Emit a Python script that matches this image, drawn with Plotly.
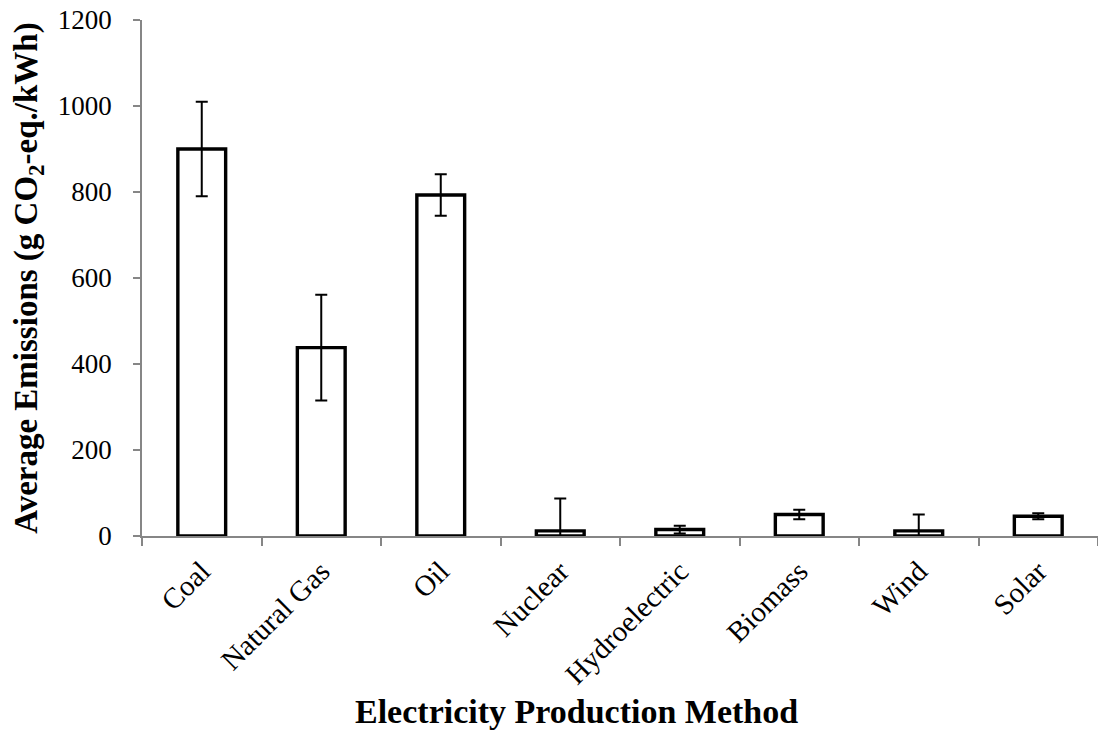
import plotly.graph_objects as go

# Life-cycle greenhouse gas emissions by electricity source
methods = ["Coal", "Natural Gas", "Oil", "Nuclear", "Hydroelectric",
           "Biomass", "Wind", "Solar"]
avg_emissions = [900, 438, 793, 12, 15, 50, 12, 46]
err_upper = [110, 123, 48, 75, 9, 11, 38, 7]
err_lower = [110, 123, 48, 12, 9, 11, 12, 7]

y_ticks = [0, 200, 400, 600, 800, 1000, 1200]

serif = "Liberation Serif, Times New Roman, serif"
axis_grey = "#868686"

fig = go.Figure(
    go.Bar(
        x=methods,
        y=avg_emissions,
        width=0.4,
        marker=dict(color="white", line=dict(color="black", width=3.4)),
        error_y=dict(
            type="data",
            symmetric=False,
            array=err_upper,
            arrayminus=err_lower,
            color="black",
            thickness=2,
            width=6,
        ),
    )
)

fig.update_layout(
    width=1098,
    height=736,
    margin=dict(l=142, r=0, t=20, b=200),
    paper_bgcolor="white",
    plot_bgcolor="white",
    showlegend=False,
    font=dict(family=serif, color="black", size=27),
)

fig.update_xaxes(
    type="category",
    showline=True,
    linecolor=axis_grey,
    linewidth=1.6,
    ticks="outside",
    tickson="boundaries",
    ticklen=8,
    tickwidth=1.6,
    tickcolor=axis_grey,
    tickangle=-45,
    tickfont=dict(family=serif, size=29, color="black"),
    ticklabelstandoff=5,
    showgrid=False,
)

fig.update_yaxes(
    range=[0, 1200],
    tickvals=y_ticks,
    showline=True,
    linecolor=axis_grey,
    linewidth=1.6,
    ticks="outside",
    ticklen=7,
    tickwidth=1.6,
    tickcolor=axis_grey,
    tickfont=dict(family=serif, size=27, color="black"),
    ticklabelstandoff=16,
    showgrid=False,
    zeroline=False,
    title=dict(
        text="<b>Average Emissions (g CO<sub>2</sub>-eq./kWh)</b>",
        font=dict(family=serif, size=33, color="black"),
        standoff=10,
    ),
)

# x-axis title placed as an annotation below the rotated category labels
fig.add_annotation(
    text="<b>Electricity Production Method</b>",
    xref="paper",
    yref="paper",
    x=0.455,
    y=-0.341,
    xanchor="center",
    yanchor="middle",
    showarrow=False,
    font=dict(family=serif, size=34, color="black"),
)

fig.write_html("out.html")
